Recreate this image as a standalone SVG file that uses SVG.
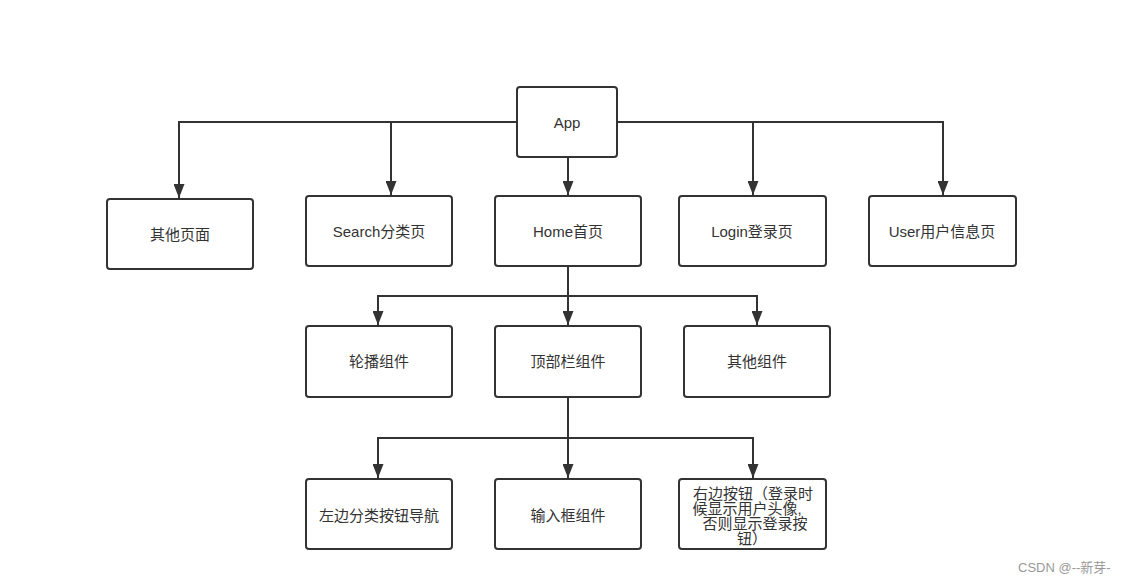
<svg xmlns="http://www.w3.org/2000/svg" width="1132" height="585" viewBox="0 0 1132 585">
<style>
.box{fill:#fff;stroke:#333;stroke-width:2}
.t{font-family:"Liberation Sans","Noto Sans CJK SC",sans-serif;font-size:15px;fill:#333;text-anchor:middle;dominant-baseline:central}
.c{fill:none;stroke:#333;stroke-width:2}
.wm{font-family:"Liberation Sans","Noto Sans CJK SC",sans-serif;font-size:13px;fill:#999}
</style>
<defs>
<marker id="ah" viewBox="0 0 14 11" refX="14" refY="5.5" markerWidth="14" markerHeight="11" markerUnits="userSpaceOnUse" orient="auto">
<path d="M0,0 L14,5.5 L0,11 Z" fill="#333"/>
</marker>
</defs>
<rect width="1132" height="585" fill="#fff"/>
<g id="connectors">
<path class="c" d="M517,122 H179 V198" marker-end="url(#ah)"/>
<path class="c" d="M391,122 V195" marker-end="url(#ah)"/>
<path class="c" d="M568,157 V195" marker-end="url(#ah)"/>
<path class="c" d="M617,122 H943 V195" marker-end="url(#ah)"/>
<path class="c" d="M753,122 V195" marker-end="url(#ah)"/>
<path class="c" d="M568,266 V325" marker-end="url(#ah)"/>
<path class="c" d="M568,296 H378 V325" marker-end="url(#ah)"/>
<path class="c" d="M568,296 H757 V325" marker-end="url(#ah)"/>
<path class="c" d="M568,397 V478" marker-end="url(#ah)"/>
<path class="c" d="M568,438 H378 V478" marker-end="url(#ah)"/>
<path class="c" d="M568,438 H753 V478" marker-end="url(#ah)"/>
</g>
<g id="app"><rect class="box" x="517" y="87" width="100" height="70" rx="3"/><text class="t" x="567" y="122">App</text></g>
<g id="other-pages"><rect class="box" x="107" y="199" width="146" height="70" rx="3"/><text class="t" x="180" y="234">其他页面</text></g>
<g id="search"><rect class="box" x="306" y="196" width="146" height="70" rx="3"/><text class="t" x="379" y="231">Search分类页</text></g>
<g id="home"><rect class="box" x="495" y="196" width="146" height="70" rx="3"/><text class="t" x="568" y="231">Home首页</text></g>
<g id="login"><rect class="box" x="679" y="196" width="147" height="70" rx="3"/><text class="t" x="752" y="231">Login登录页</text></g>
<g id="user"><rect class="box" x="869" y="196" width="147" height="70" rx="3"/><text class="t" x="942" y="231">User用户信息页</text></g>
<g id="carousel"><rect class="box" x="306" y="326" width="146" height="71" rx="3"/><text class="t" x="379" y="361">轮播组件</text></g>
<g id="topbar"><rect class="box" x="495" y="326" width="146" height="71" rx="3"/><text class="t" x="568" y="361">顶部栏组件</text></g>
<g id="other-comp"><rect class="box" x="684" y="326" width="146" height="71" rx="3"/><text class="t" x="757" y="361">其他组件</text></g>
<g id="left-nav"><rect class="box" x="306" y="479" width="146" height="70" rx="3"/><text class="t" x="379" y="515">左边分类按钮导航</text></g>
<g id="input"><rect class="box" x="495" y="479" width="146" height="70" rx="3"/><text class="t" x="568" y="515">输入框组件</text></g>
<g id="right-btn"><rect class="box" x="679" y="479" width="147" height="70" rx="3"/>
<text class="t" x="753" y="493">右边按钮（登录时</text>
<text class="t" x="747" y="508">候显示用户头像,</text>
<text class="t" x="755" y="523">否则显示登录按</text>
<text class="t" x="752" y="538">钮）</text>
</g>
<text class="wm" x="1018" y="572">CSDN @--新芽-</text>
</svg>
